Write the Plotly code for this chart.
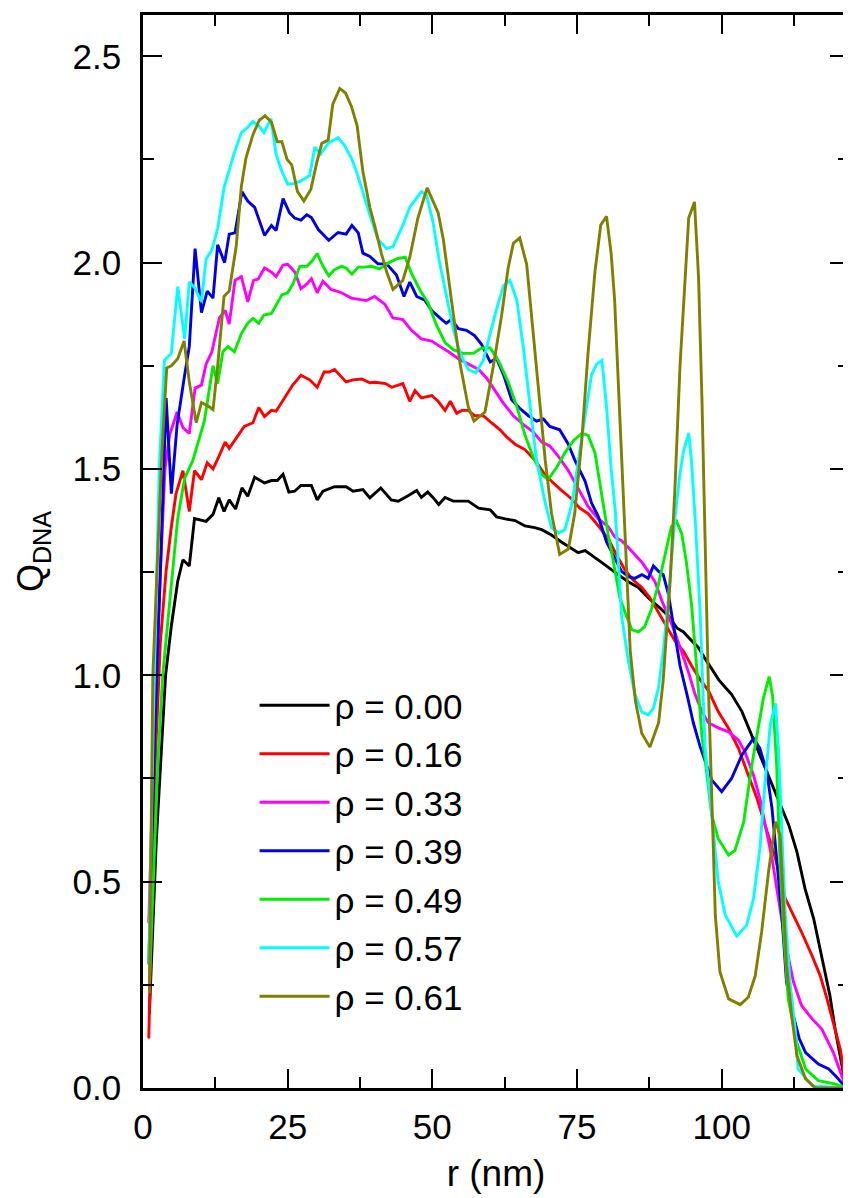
import plotly.graph_objects as go

# ---- data (r in nm, Q_DNA) ----
labels = ["ρ = 0.00", "ρ = 0.16", "ρ = 0.33", "ρ = 0.39", "ρ = 0.49", "ρ = 0.57", "ρ = 0.61"]
colors = ["#000000", "#ff0000", "#ff00ff", "#0000e6", "#00ee00", "#00ffff", "#808000"]

r_black = [1.1, 2.3, 3.3, 3.9, 4.9, 6.0, 6.9, 8.0, 8.9, 10.9, 12.1, 13.1, 14.0, 14.9, 16.0, 17.1, 18.1, 19.3, 21.0, 22.2, 23.2, 24.2, 25.2, 26.2, 27.3, 29.1, 30.1, 31.1, 33.1, 35.1, 36.3, 38.0, 39.2, 41.1, 42.9, 44.1, 45.8, 47.3, 48.1, 49.2, 50.1, 51.1, 52.2, 53.6, 56.2, 58.0, 60.0, 61.1, 62.6, 64.3, 66.0, 67.7, 68.9, 70.6, 72.3, 74.1, 75.2, 76.4, 78.1, 79.9, 82.1, 83.9, 85.6, 87.3, 89.1, 90.8, 92.3, 93.4, 94.8, 96.0, 97.1, 98.3, 99.5, 100.6, 101.7, 103.5, 105.2, 106.9, 108.7, 110.4, 111.6, 113.0, 114.4, 115.9, 117.3, 118.7, 119.6, 121.5]
q_black = [0.18, 0.6, 0.85, 1.0, 1.12, 1.228, 1.28, 1.265, 1.38, 1.373, 1.39, 1.43, 1.397, 1.425, 1.403, 1.454, 1.434, 1.48, 1.466, 1.472, 1.472, 1.487, 1.444, 1.446, 1.46, 1.46, 1.425, 1.446, 1.457, 1.457, 1.446, 1.45, 1.43, 1.454, 1.425, 1.422, 1.435, 1.448, 1.431, 1.444, 1.431, 1.414, 1.431, 1.422, 1.422, 1.405, 1.401, 1.384, 1.379, 1.375, 1.362, 1.358, 1.353, 1.34, 1.323, 1.306, 1.297, 1.302, 1.284, 1.267, 1.244, 1.226, 1.213, 1.188, 1.166, 1.144, 1.114, 1.105, 1.084, 1.067, 1.041, 1.015, 0.989, 0.971, 0.954, 0.912, 0.855, 0.799, 0.734, 0.677, 0.637, 0.572, 0.483, 0.41, 0.313, 0.224, 0.143, 0.0]

r_red = [1.0, 2.0, 3.0, 4.0, 4.9, 5.7, 6.9, 8.0, 8.9, 10.1, 11.1, 12.1, 13.1, 14.2, 14.9, 16.4, 17.5, 19.0, 20.0, 21.0, 22.2, 23.0, 24.5, 25.9, 27.3, 28.8, 30.1, 31.3, 32.2, 33.1, 35.1, 36.3, 37.8, 39.2, 40.1, 41.9, 43.0, 44.9, 46.1, 47.0, 48.1, 49.9, 51.0, 52.2, 53.1, 54.2, 55.1, 56.2, 57.3, 58.8, 60.2, 61.7, 62.8, 64.3, 66.0, 67.7, 69.2, 70.6, 72.3, 73.8, 75.5, 76.9, 78.7, 80.4, 81.9, 83.3, 84.7, 86.2, 87.6, 89.1, 90.5, 91.9, 93.4, 94.8, 96.3, 97.7, 99.4, 101.2, 102.9, 104.6, 106.1, 107.5, 109.3, 111.0, 112.4, 113.8, 115.6, 117.0, 118.2, 119.6, 120.5, 121.5]
q_red = [0.12, 0.75, 1.08, 1.254, 1.36, 1.44, 1.496, 1.397, 1.496, 1.474, 1.515, 1.5, 1.53, 1.565, 1.55, 1.582, 1.603, 1.612, 1.649, 1.627, 1.642, 1.64, 1.672, 1.704, 1.727, 1.716, 1.698, 1.735, 1.735, 1.741, 1.711, 1.716, 1.718, 1.709, 1.71, 1.707, 1.698, 1.707, 1.664, 1.69, 1.672, 1.678, 1.664, 1.642, 1.664, 1.635, 1.642, 1.642, 1.629, 1.629, 1.612, 1.595, 1.578, 1.56, 1.547, 1.522, 1.491, 1.47, 1.448, 1.431, 1.405, 1.392, 1.362, 1.33, 1.29, 1.255, 1.231, 1.213, 1.188, 1.153, 1.118, 1.084, 1.058, 1.023, 0.989, 0.963, 0.912, 0.871, 0.823, 0.758, 0.702, 0.637, 0.556, 0.459, 0.418, 0.378, 0.321, 0.273, 0.216, 0.143, 0.094, 0.0]

r_mag = [1.0, 2.0, 3.0, 3.8, 4.6, 5.9, 6.9, 8.0, 9.0, 10.1, 10.9, 11.9, 13.2, 14.2, 14.9, 15.9, 17.0, 18.1, 19.1, 19.9, 21.0, 22.2, 23.0, 24.2, 25.0, 26.2, 27.3, 28.3, 29.1, 30.1, 31.1, 32.5, 34.3, 36.0, 38.6, 40.0, 41.8, 43.2, 44.9, 46.4, 48.1, 49.9, 51.3, 52.8, 54.5, 56.2, 58.0, 59.4, 60.8, 62.3, 64.0, 65.7, 67.4, 68.9, 70.3, 71.8, 73.5, 75.2, 76.9, 78.7, 80.4, 81.6, 82.7, 83.9, 85.0, 86.2, 87.3, 88.5, 89.7, 90.8, 92.0, 93.1, 94.3, 95.4, 96.6, 97.7, 99.5, 101.2, 102.9, 104.0, 105.5, 106.6, 107.8, 108.7, 109.8, 111.0, 112.4, 113.8, 115.6, 117.3, 119.3, 121.5]
q_mag = [0.4, 0.9, 1.25, 1.5, 1.582, 1.638, 1.6, 1.586, 1.696, 1.703, 1.754, 1.784, 1.866, 1.884, 1.851, 1.957, 1.966, 1.905, 1.957, 1.96, 1.987, 1.977, 1.966, 1.994, 1.996, 1.978, 1.937, 1.948, 1.961, 1.927, 1.955, 1.935, 1.927, 1.914, 1.908, 1.918, 1.899, 1.866, 1.862, 1.836, 1.815, 1.81, 1.797, 1.784, 1.767, 1.754, 1.741, 1.72, 1.69, 1.659, 1.629, 1.608, 1.59, 1.565, 1.556, 1.53, 1.496, 1.453, 1.409, 1.379, 1.36, 1.334, 1.326, 1.309, 1.291, 1.274, 1.252, 1.226, 1.179, 1.144, 1.101, 1.058, 1.006, 0.954, 0.911, 0.885, 0.872, 0.863, 0.843, 0.815, 0.758, 0.702, 0.621, 0.556, 0.459, 0.353, 0.257, 0.2, 0.168, 0.143, 0.086, 0.0]

r_blue = [1.0, 2.0, 3.0, 4.0, 4.9, 5.9, 7.2, 8.0, 9.0, 10.1, 11.1, 12.1, 12.9, 14.1, 14.9, 15.9, 17.1, 18.1, 19.3, 21.0, 22.2, 23.0, 24.2, 25.3, 26.2, 27.3, 28.3, 29.1, 30.3, 32.1, 33.7, 35.1, 36.1, 37.2, 38.0, 39.2, 40.6, 42.1, 43.8, 45.1, 46.1, 47.3, 48.7, 49.9, 51.3, 52.4, 53.3, 54.5, 55.9, 57.3, 58.5, 60.0, 61.1, 62.3, 63.7, 65.1, 66.6, 68.0, 69.2, 70.3, 72.0, 73.5, 74.6, 76.4, 77.5, 78.7, 80.1, 81.6, 82.7, 83.9, 85.0, 86.2, 87.3, 88.2, 89.1, 89.9, 90.8, 91.7, 92.8, 94.0, 95.1, 96.3, 98.3, 100.0, 101.7, 103.5, 105.5, 106.6, 107.8, 108.7, 109.5, 110.4, 111.2, 112.3, 113.4, 114.5, 116.7, 118.5, 119.9, 121.5]
q_blue = [0.3, 0.85, 1.25, 1.672, 1.44, 1.608, 1.728, 1.797, 2.034, 1.879, 1.931, 1.914, 2.043, 2.0, 2.069, 2.072, 2.172, 2.149, 2.134, 2.066, 2.09, 2.078, 2.155, 2.121, 2.108, 2.103, 2.116, 2.109, 2.08, 2.054, 2.073, 2.069, 2.09, 2.072, 2.023, 2.015, 1.997, 1.997, 1.97, 1.918, 1.953, 1.918, 1.909, 1.884, 1.866, 1.853, 1.862, 1.84, 1.836, 1.823, 1.802, 1.759, 1.768, 1.728, 1.668, 1.647, 1.629, 1.616, 1.621, 1.603, 1.595, 1.56, 1.522, 1.47, 1.418, 1.384, 1.323, 1.283, 1.252, 1.239, 1.235, 1.244, 1.235, 1.265, 1.252, 1.244, 1.196, 1.118, 1.023, 0.954, 0.885, 0.826, 0.746, 0.718, 0.75, 0.807, 0.847, 0.823, 0.766, 0.677, 0.556, 0.418, 0.257, 0.18, 0.12, 0.086, 0.058, 0.046, 0.026, 0.0]

r_green = [1.1, 1.9, 2.6, 3.4, 4.9, 6.0, 7.2, 8.6, 10.6, 12.1, 12.9, 13.8, 14.7, 15.8, 17.0, 18.1, 19.0, 20.0, 20.9, 22.2, 23.0, 24.0, 25.0, 25.9, 27.1, 28.3, 29.2, 30.1, 31.1, 32.1, 33.1, 34.3, 35.1, 36.1, 37.2, 38.3, 39.5, 40.9, 42.1, 43.8, 45.3, 46.4, 47.8, 49.3, 50.7, 52.2, 53.6, 55.3, 57.1, 58.5, 60.0, 61.4, 63.1, 64.6, 66.0, 67.4, 68.9, 70.0, 71.5, 72.9, 74.4, 75.8, 76.9, 78.1, 79.3, 80.4, 81.3, 82.4, 83.3, 84.5, 85.6, 86.7, 87.9, 89.1, 90.2, 91.3, 92.2, 93.1, 93.9, 94.8, 95.7, 96.6, 97.1, 98.3, 99.4, 101.2, 102.3, 103.8, 105.2, 106.4, 107.2, 108.2, 108.8, 109.5, 110.1, 110.7, 111.5, 112.4, 113.0, 114.5, 116.7, 119.5, 121.5]
q_green = [0.25, 0.55, 0.8, 1.0, 1.21, 1.38, 1.478, 1.52, 1.616, 1.75, 1.707, 1.784, 1.797, 1.784, 1.828, 1.853, 1.865, 1.853, 1.873, 1.877, 1.897, 1.922, 1.927, 1.948, 1.991, 1.991, 2.004, 2.022, 1.991, 1.968, 1.983, 1.991, 1.987, 1.972, 1.989, 1.989, 1.991, 1.985, 1.997, 2.009, 2.013, 1.974, 1.935, 1.901, 1.849, 1.806, 1.789, 1.78, 1.78, 1.793, 1.793, 1.763, 1.711, 1.651, 1.582, 1.53, 1.487, 1.474, 1.504, 1.539, 1.569, 1.586, 1.582, 1.539, 1.435, 1.34, 1.274, 1.188, 1.153, 1.11, 1.105, 1.118, 1.162, 1.222, 1.291, 1.36, 1.373, 1.343, 1.274, 1.17, 1.015, 0.85, 0.8, 0.66, 0.604, 0.564, 0.576, 0.645, 0.782, 0.88, 0.944, 0.997, 0.95, 0.782, 0.54, 0.378, 0.216, 0.151, 0.11, 0.046, 0.018, 0.01, 0.0]

r_cyan = [1.0, 1.8, 2.8, 3.7, 4.9, 6.0, 7.2, 8.0, 8.9, 10.1, 10.9, 11.9, 12.9, 14.0, 14.9, 15.8, 17.0, 18.1, 19.0, 20.0, 20.9, 22.1, 23.0, 23.9, 25.0, 26.2, 27.3, 28.8, 29.7, 30.7, 32.0, 33.7, 34.8, 36.0, 36.9, 38.0, 39.2, 40.6, 42.1, 43.2, 44.1, 44.9, 46.1, 47.0, 48.1, 49.0, 50.1, 51.2, 52.4, 53.6, 54.8, 56.2, 57.5, 58.8, 60.0, 61.1, 62.3, 63.4, 64.6, 65.7, 66.9, 68.0, 69.5, 70.6, 71.8, 72.9, 74.1, 75.2, 76.4, 77.5, 78.4, 79.3, 80.1, 80.9, 81.6, 82.7, 83.9, 85.0, 86.2, 87.3, 88.2, 89.1, 89.9, 90.8, 91.9, 92.8, 93.4, 94.3, 94.8, 95.5, 96.3, 97.1, 98.3, 99.4, 100.6, 102.6, 104.3, 105.5, 106.6, 107.5, 108.4, 109.3, 109.8, 110.4, 111.0, 111.8, 112.7, 113.2, 115.7, 121.5]
q_cyan = [0.3, 0.9, 1.5, 1.763, 1.78, 1.942, 1.815, 1.953, 1.94, 1.905, 2.009, 2.03, 2.082, 2.181, 2.224, 2.267, 2.315, 2.328, 2.342, 2.332, 2.315, 2.349, 2.263, 2.224, 2.19, 2.192, 2.198, 2.211, 2.28, 2.263, 2.289, 2.303, 2.284, 2.254, 2.22, 2.168, 2.116, 2.056, 2.034, 2.039, 2.065, 2.09, 2.134, 2.151, 2.172, 2.164, 2.099, 2.004, 1.918, 1.84, 1.78, 1.741, 1.733, 1.763, 1.828, 1.888, 1.944, 1.957, 1.909, 1.797, 1.651, 1.522, 1.418, 1.358, 1.345, 1.353, 1.414, 1.522, 1.629, 1.728, 1.754, 1.763, 1.651, 1.5, 1.4, 1.144, 1.032, 0.954, 0.911, 0.904, 0.92, 0.971, 1.058, 1.188, 1.378, 1.49, 1.542, 1.587, 1.516, 1.36, 1.144, 0.83, 0.66, 0.5, 0.42, 0.368, 0.394, 0.459, 0.58, 0.742, 0.88, 0.932, 0.823, 0.62, 0.418, 0.257, 0.143, 0.046, 0.005, 0.0]

r_olive = [1.1, 1.7, 2.3, 3.3, 4.1, 4.9, 6.0, 7.1, 8.0, 9.2, 10.1, 11.2, 12.1, 12.9, 14.0, 14.9, 16.1, 17.0, 17.8, 19.0, 20.1, 21.1, 22.2, 23.2, 24.0, 24.9, 25.7, 26.7, 27.8, 29.0, 30.0, 30.9, 32.0, 32.8, 34.0, 35.0, 36.0, 37.0, 38.0, 39.2, 40.1, 41.2, 42.1, 43.2, 44.9, 46.1, 47.5, 49.1, 51.0, 51.9, 53.3, 54.8, 56.2, 57.2, 59.1, 60.5, 62.0, 63.1, 64.0, 65.1, 66.3, 67.2, 68.3, 69.5, 70.6, 72.0, 73.5, 74.6, 75.8, 76.9, 78.1, 79.1, 80.1, 80.9, 81.5, 82.3, 83.3, 84.2, 85.1, 86.2, 87.6, 89.1, 89.9, 91.1, 91.9, 92.8, 93.7, 94.3, 95.3, 96.0, 96.6, 97.1, 97.7, 98.3, 98.9, 99.7, 101.2, 103.2, 104.6, 105.8, 106.9, 108.1, 109.3, 110.1, 110.7, 111.2, 112.1, 113.0, 114.5, 116.2, 121.5]
q_olive = [0.23, 1.0, 1.21, 1.55, 1.745, 1.75, 1.767, 1.81, 1.711, 1.612, 1.661, 1.653, 1.644, 1.75, 1.918, 1.931, 2.039, 2.185, 2.254, 2.31, 2.345, 2.356, 2.34, 2.293, 2.293, 2.25, 2.237, 2.172, 2.149, 2.177, 2.241, 2.289, 2.297, 2.384, 2.422, 2.411, 2.379, 2.332, 2.22, 2.134, 2.086, 2.022, 1.978, 1.935, 1.957, 2.013, 2.108, 2.181, 2.121, 2.056, 1.909, 1.754, 1.651, 1.616, 1.638, 1.746, 1.875, 1.987, 2.047, 2.06, 1.996, 1.866, 1.694, 1.522, 1.392, 1.293, 1.306, 1.392, 1.565, 1.78, 1.978, 2.091, 2.112, 2.022, 1.909, 1.66, 1.317, 1.058, 0.937, 0.859, 0.826, 0.885, 0.989, 1.23, 1.447, 1.75, 1.965, 2.108, 2.147, 1.965, 1.663, 1.317, 0.971, 0.701, 0.418, 0.281, 0.216, 0.202, 0.22, 0.272, 0.378, 0.524, 0.645, 0.612, 0.458, 0.297, 0.175, 0.078, 0.022, 0.0, 0.0]

x_ticks = [0, 25, 50, 75, 100]
y_ticks = [0.0, 0.5, 1.0, 1.5, 2.0, 2.5]
y_ticktext = ["0.0", "0.5", "1.0", "1.5", "2.0", "2.5"]

series_r = [r_black, r_red, r_mag, r_blue, r_green, r_cyan, r_olive]
series_q = [q_black, q_red, q_mag, q_blue, q_green, q_cyan, q_olive]
for rr, qq in zip(series_r, series_q):
    assert len(rr) == len(qq), (len(rr), len(qq))

FONT = "Liberation Sans, Arial, sans-serif"

fig = go.Figure()
for name, col, rr, qq in zip(labels, colors, series_r, series_q):
    fig.add_trace(go.Scatter(x=rr, y=qq, mode="lines", name=name,
                             line=dict(color=col, width=2.9)))

axis_common = dict(
    showline=True, linecolor="black", linewidth=2.5, mirror="ticks",
    ticks="inside", tickcolor="black", tickwidth=2.2, ticklen=19,
    showgrid=False, zeroline=False, automargin=False,
    tickfont=dict(family=FONT, size=35, color="black"),
)

fig.update_xaxes(range=[0, 122.0], tickvals=x_ticks, ticklabelstandoff=6,
                 minor=dict(ticks="inside", ticklen=11, tickwidth=2.2, dtick=12.5, tick0=0, tickcolor="black"),
                 title=dict(text="r (nm)", font=dict(family=FONT, size=37, color="black"), standoff=16),
                 **axis_common)
fig.update_yaxes(range=[0, 2.6], tickvals=y_ticks, ticktext=y_ticktext, ticklabelstandoff=12,
                 minor=dict(ticks="inside", ticklen=11, tickwidth=2.2, dtick=0.25, tick0=0, tickcolor="black"),
                 title=dict(text="Q<sub>DNA</sub>", font=dict(family=FONT, size=36, color="black"), standoff=18),
                 **axis_common)

fig.update_layout(
    width=851, height=1198,
    margin=dict(l=135, r=10, t=7, b=118),
    paper_bgcolor="white", plot_bgcolor="white",
    showlegend=True,
    legend=dict(x=0.158, y=0.384, xanchor="left", yanchor="top",
                font=dict(family=FONT, size=35, color="black"),
                bgcolor="rgba(0,0,0,0)", borderwidth=0, itemwidth=70,
                tracegroupgap=0),
)

fig.write_html("out.html")
